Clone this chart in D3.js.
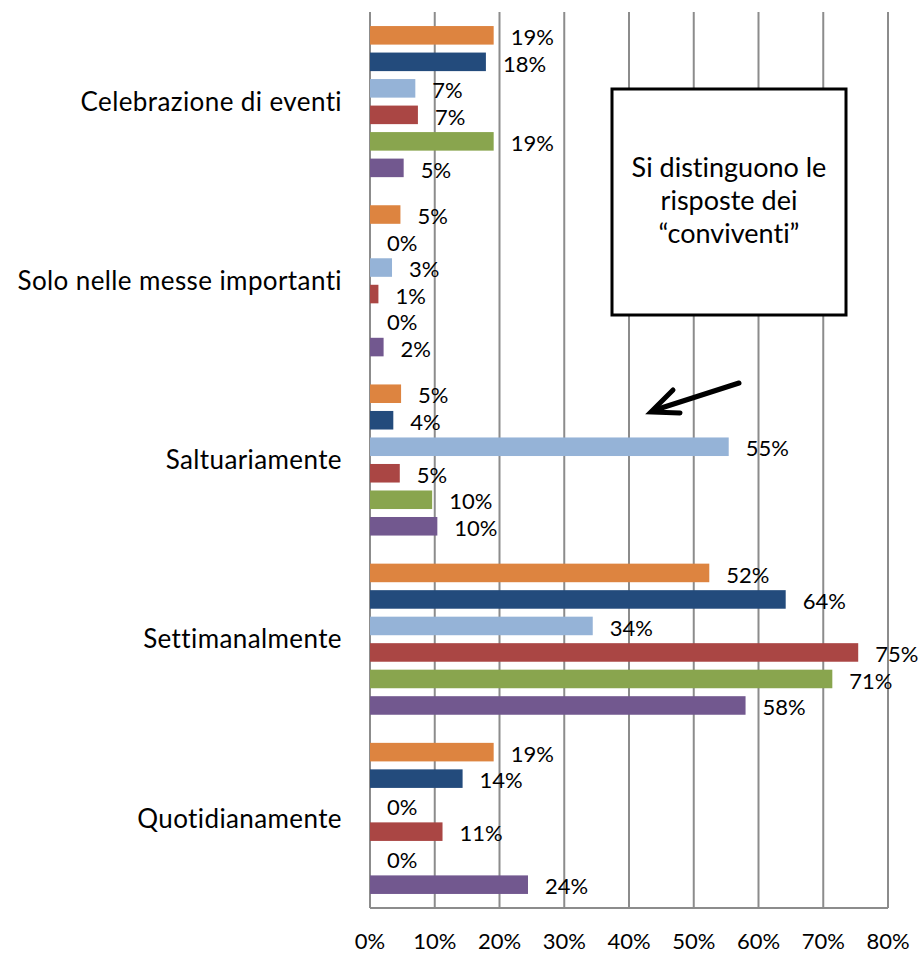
<!DOCTYPE html>
<html>
<head>
<meta charset="utf-8">
<script src="https://cdn.jsdelivr.net/npm/d3@7"></script>
<style>
  body { margin: 0; background: #fff; }
  svg text { font-family: Lato, "Open Sans", sans-serif; fill: #000; font-variant-ligatures: none; }
</style>
</head>
<body>
<svg width="922" height="954"></svg>
<script>
// categories, top to bottom
var categories = ["Celebrazione di eventi", "Solo nelle messe importanti", "Saltuariamente", "Settimanalmente", "Quotidianamente"];
// six series per category (unnamed in the picture), in drawing order
var series = ["s1", "s2", "s3", "s4", "s5", "s6"];
var colors = ["#dd8440", "#234b7c", "#95b3d7", "#aa4644", "#89a54e", "#72588f"];
// values in %, one array per series, aligned with categories
var s1 = [19.1, 4.7, 4.8, 52.4, 19.1];
var s2 = [17.9, 0, 3.6, 64.2, 14.3];
var s3 = [7.0, 3.4, 55.4, 34.4, 0];
var s4 = [7.4, 1.3, 4.6, 75.4, 11.2];
var s5 = [19.1, 0, 9.6, 71.4, 0];
var s6 = [5.2, 2.1, 10.4, 58.0, 24.4];
var values = [s1, s2, s3, s4, s5, s6];
var ticks = [0, 10, 20, 30, 40, 50, 60, 70, 80];
var note = ["Si distinguono le", "risposte dei", "\u201cconviventi\u201d"];

var svg = d3.select("svg"),
	plotLeft = 370,
	plotRight = 888,
	plotTop = 12,
	plotBottom = 908;

var x = d3.scaleLinear().domain([0, 80]).range([plotLeft, plotRight]);

var y0 = d3.scaleBand().domain(categories).range([plotTop, plotBottom]);

var y1 = d3.scaleBand().domain(series).range([0, y0.bandwidth()])
	.paddingInner(0.3).paddingOuter(0.53);

// gridlines
svg.append("g")
	.selectAll("line")
	.data(ticks)
	.enter()
	.append("line")
	.attr("x1", function(d) { return x(d); })
	.attr("x2", function(d) { return x(d); })
	.attr("y1", plotTop)
	.attr("y2", plotBottom)
	.attr("stroke", "#8c8c8c")
	.attr("stroke-width", 2);

// bottom axis line
svg.append("line")
	.attr("x1", x(0)).attr("x2", x(80))
	.attr("y1", plotBottom).attr("y2", plotBottom)
	.attr("stroke", "#8c8c8c")
	.attr("stroke-width", 2);

// tick labels
svg.append("g")
	.selectAll("text")
	.data(ticks)
	.enter()
	.append("text")
	.attr("x", function(d) { return x(d); })
	.attr("y", 949)
	.attr("text-anchor", "middle")
	.attr("font-size", 22)
	.text(function(d) { return d + "%"; });

// category labels
svg.append("g")
	.selectAll("text")
	.data(categories)
	.enter()
	.append("text")
	.attr("x", 342)
	.attr("y", function(d) { return y0(d) + y0.bandwidth() / 2; })
	.attr("dy", "0.35em")
	.attr("text-anchor", "end")
	.attr("font-size", 26)
	.attr("letter-spacing", 0.4)
	.text(function(d) { return d; });

// bars and labels
var group = svg.selectAll(".grp")
	.data(categories)
	.enter()
	.append("g")
	.attr("class", "grp")
	.attr("transform", function(d) { return "translate(0," + y0(d) + ")"; });

series.forEach(function(s, si) {
	group.append("rect")
		.attr("x", x(0))
		.attr("y", y1(s))
		.attr("height", y1.bandwidth())
		.attr("width", function(d, ci) { return x(values[si][ci]) - x(0); })
		.attr("fill", colors[si]);

	group.append("text")
		.attr("x", function(d, ci) { return x(values[si][ci]) + 17; })
		.attr("y", y1(s) + y1.bandwidth() / 2 + 2)
		.attr("dy", "0.35em")
		.attr("font-size", 22)
		.text(function(d, ci) { return Math.round(values[si][ci]) + "%"; });
});

// note box
svg.append("rect")
	.attr("x", 612)
	.attr("y", 89)
	.attr("width", 234)
	.attr("height", 226)
	.attr("fill", "#fff")
	.attr("stroke", "#000")
	.attr("stroke-width", 3);

svg.append("g")
	.selectAll("text")
	.data(note)
	.enter()
	.append("text")
	.attr("x", 729)
	.attr("y", function(d, i) { return 177 + i * 33; })
	.attr("text-anchor", "middle")
	.attr("font-size", 27)
	.text(function(d) { return d; });

// arrow
svg.append("line")
	.attr("x1", 739).attr("y1", 383)
	.attr("x2", 655).attr("y2", 410)
	.attr("stroke", "#000")
	.attr("stroke-width", 5)
	.attr("stroke-linecap", "round");

svg.append("path")
	.attr("d", "M673,390 L651,412 L680,413")
	.attr("fill", "none")
	.attr("stroke", "#000")
	.attr("stroke-width", 5)
	.attr("stroke-linecap", "round")
	.attr("stroke-linejoin", "miter");
</script>
</body>
</html>
